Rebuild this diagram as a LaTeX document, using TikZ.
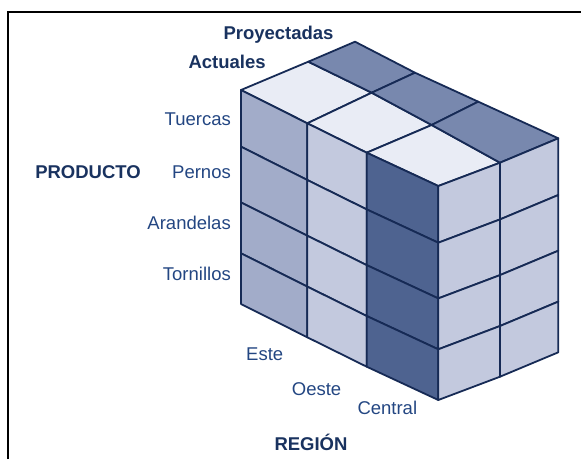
\documentclass[tikz,border=0pt]{standalone}
\usepackage{fontspec}
\setmainfont{Liberation Sans}
\usetikzlibrary{positioning}

\definecolor{edgeblue}{RGB}{22,42,85}
\definecolor{labblue}{RGB}{35,70,130}
\definecolor{axisblue}{RGB}{25,50,95}
\definecolor{topfront}{RGB}{233,236,245}
\definecolor{topback}{RGB}{120,136,174}
\definecolor{este}{RGB}{162,172,201}
\definecolor{oeste}{RGB}{195,201,222}
\definecolor{central}{RGB}{78,99,144}

\tikzset{
  cell/.style={draw=edgeblue, line width=1.8pt, line join=round},
  rowlab/.style={inner sep=0pt, text=labblue, font=\fontsize{18.5}{21}\selectfont},
  axislab/.style={inner sep=0pt, text=axisblue, font=\fontsize{18.5}{21}\selectfont\bfseries},
}

\begin{document}
\begin{tikzpicture}[x=1pt, y=-1pt]
      \useasboundingbox (0,0) rectangle (581,459);
      \draw[line width=2.2pt] (8,459) -- (8,12) -- (581,12);
      % Top corners of the cube
      \foreach \i/\j/\x/\y in {0/0/241/90, 1/0/307.3/123.3, 2/0/366.7/152.7, 3/0/438.3/186,
                               0/1/308.3/61.7, 1/1/371.7/92.7, 2/1/431.7/125, 3/1/500/162.7,
                               0/2/355/41.7, 1/2/415/72.7, 2/2/478.3/101.7, 3/2/558.3/138.3}
        \coordinate (t\i\j) at (\x,\y);
      % Top face
      \foreach \i in {0,1,2} {
        \pgfmathtruncatemacro\k{\i+1}
        \filldraw[cell, fill=topfront] (t\i0) -- (t\k0) -- (t\k1) -- (t\i1) -- cycle;
        \filldraw[cell, fill=topback] (t\i1) -- (t\k1) -- (t\k2) -- (t\i2) -- cycle;
      }
      % Front face
      \foreach \i/\c in {0/este, 1/oeste, 2/central} {
        \pgfmathtruncatemacro\k{\i+1}
        \foreach \a/\b in {0/56.7, 56.7/112.4, 112.4/163.3, 163.3/214}
          \filldraw[cell, fill=\c] ([yshift=-\a pt]t\i0) -- ([yshift=-\a pt]t\k0)
            -- ([yshift=-\b pt]t\k0) -- ([yshift=-\b pt]t\i0) -- cycle;
      }
      % Right face
      \foreach \j in {0,1} {
        \pgfmathtruncatemacro\k{\j+1}
        \foreach \a/\b in {0/56.7, 56.7/112.4, 112.4/163.3, 163.3/214}
          \filldraw[cell, fill=oeste] ([yshift=-\a pt]t3\j) -- ([yshift=-\a pt]t3\k)
            -- ([yshift=-\b pt]t3\k) -- ([yshift=-\b pt]t3\j) -- cycle;
      }
      % Labels
      \node[rowlab, anchor=base east] (tuercas) at (231,125.7) {Tuercas};
      \node[rowlab, anchor=base east] (pernos) at (231,178) {Pernos};
      \node[rowlab, anchor=base east] (arandelas) at (231,229.3) {Arandelas};
      \node[rowlab, anchor=base east] (tornillos) at (231,280) {Tornillos};
      \node[axislab, base left=31pt of pernos] (producto) {PRODUCTO};
      \node[axislab, anchor=base west] (proyectadas) at (223.3,39.5) {Proyectadas};
      \node[axislab, anchor=base west] (actuales) at (188.3,68.3) {Actuales};
      \node[rowlab, anchor=base west] (estelab) at (246,360) {Este};
      \node[rowlab, anchor=base west] (oestelab) at (291.7,395) {Oeste};
      \node[rowlab, anchor=base west] (centrallab) at (357.3,414) {Central};
      \node[axislab, anchor=base west] (region) at (274.3,450.7) {REGIÓN};
    \end{tikzpicture}
\end{document}
